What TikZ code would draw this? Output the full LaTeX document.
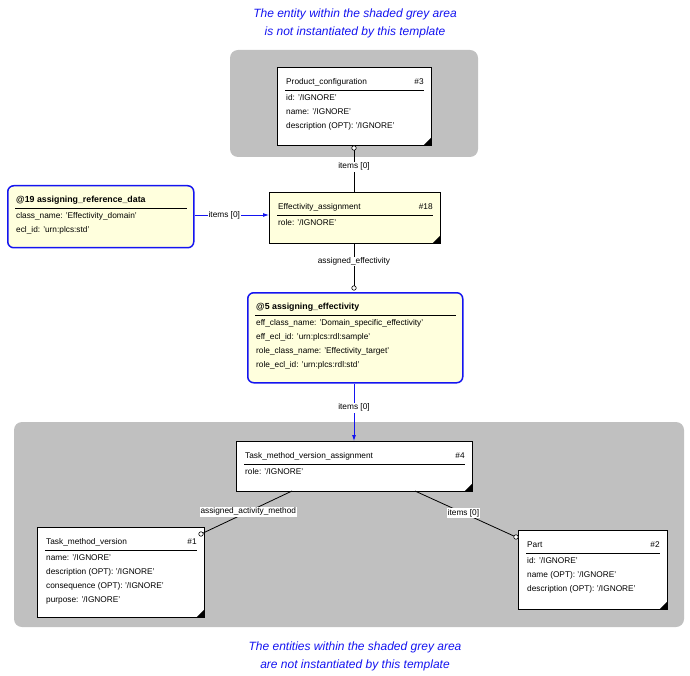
\documentclass[tikz,border=0pt]{standalone}
\usepackage{fontspec}
\setmainfont{Liberation Sans}
\usetikzlibrary{arrows.meta}
\definecolor{ly}{RGB}{255,255,221}
\definecolor{gr}{RGB}{192,192,192}
\definecolor{bl}{RGB}{20,20,240}
\tikzset{
 ent/.style={draw=black,line width=0.9pt,anchor=north west,inner sep=0},
 tpl/.style={draw=bl,line width=1.5pt,rounded corners=6pt,anchor=north west,inner sep=0,fill=ly},
 txt/.style={anchor=west,inner sep=0,font=\fontsize{8.3}{14}\selectfont},
 attr/.style={anchor=north west,inner sep=0,align=left,font=\fontsize{8.3}{14}\selectfont},
 lbl/.style={fill=white,inner sep=1pt,font=\fontsize{8.3}{9}\selectfont},
 note/.style={text=bl,font=\fontsize{12}{18}\selectfont\itshape,align=center},
 conn/.style={line width=0.8pt},
 ring/.style={circle,draw=black,fill=white,inner sep=0,minimum size=4.5pt,line width=0.6pt},
}
\newcommand{\myent}[9]{% name x y w h title num attrs fill
 \node[ent,fill=#9,minimum width=#4pt,minimum height=#5pt] (#1) at (#2,#3) {};
 \node[txt] (#1-t) at ([xshift=9pt,yshift=-15pt]#1.north west) {#6};
 \node[txt,anchor=east] (#1-n) at ([xshift=-8pt,yshift=-15pt]#1.north east) {#7};
 \draw[line width=0.5pt] ([xshift=8pt,yshift=-23pt]#1.north west) -- ([xshift=-8pt,yshift=-23pt]#1.north east);
 \node[attr] (#1-a) at ([xshift=9pt,yshift=-27pt]#1.north west) {#8};
 \fill (#1.south east) -- ++(-9,0) -- ++(9,-9) -- cycle;
}
\newcommand{\mytpl}[7]{% name x y w h title attrs
 \node[tpl,minimum width=#4pt,minimum height=#5pt] (#1) at (#2,#3) {};
 \node[txt,font=\fontsize{8.8}{14}\selectfont\bfseries] (#1-t) at ([xshift=9pt,yshift=-15pt]#1.north west) {#6};
 \draw[line width=0.6pt] ([xshift=8pt,yshift=-23pt]#1.north west) -- ([xshift=-8pt,yshift=-23pt]#1.north east);
 \node[attr] (#1-a) at ([xshift=9pt,yshift=-27pt]#1.north west) {#7};
}
\begin{document}
\begin{tikzpicture}[x=1pt,y=-1pt]
\useasboundingbox (0,0) rectangle (690,676);
\fill[gr,rounded corners=8pt] (230,50) rectangle (478,157);
\fill[gr,rounded corners=8pt] (14,422) rectangle (684,627);
\node[note] (n1) at (355,23) {The entity within the shaded grey area\\is not instantiated by this template};
\node[note] (n2) at (355,656) {The entities within the shaded grey area\\are not instantiated by this template};

\myent{pc}{277}{67}{154}{78}{Product\_configuration}{\#3}{id: '/IGNORE'\\name: '/IGNORE'\\description (OPT): '/IGNORE'}{white}
\myent{ea}{269}{192}{171}{51}{Effectivity\_assignment}{\#18}{role: '/IGNORE'}{ly}
\mytpl{r19}{7}{185}{186}{62}{@19 assigning\_reference\_data}{class\_name: 'Effectivity\_domain'\\ecl\_id: 'urn:plcs:std'}
\mytpl{r5}{247}{292}{215}{90}{@5 assigning\_effectivity}{eff\_class\_name: 'Domain\_specific\_effectivity'\\eff\_ecl\_id: 'urn:plcs:rdl:sample'\\role\_class\_name: 'Effectivity\_target'\\role\_ecl\_id: 'urn:plcs:rdl:std'}
\myent{tmva}{236}{441}{236}{50}{Task\_method\_version\_assignment}{\#4}{role: '/IGNORE'}{white}
\myent{tmv}{37}{527}{167}{90}{Task\_method\_version}{\#1}{name: '/IGNORE'\\description (OPT): '/IGNORE'\\consequence (OPT): '/IGNORE'\\purpose: '/IGNORE'}{white}
\myent{part}{518}{530}{149}{79}{Part}{\#2}{id: '/IGNORE'\\name (OPT): '/IGNORE'\\description (OPT): '/IGNORE'}{white}

\coordinate (c1) at (354,148);
\draw[conn] (ea.north -| c1) -- node[lbl,pos=0.55]{items [0]} (pc.south -| c1);
\node[ring] at (c1) {};
\draw[conn,bl,-{Latex[length=6pt,width=4pt]}] (r19.east |- 0,215) -- node[lbl,text=black,pos=0.4]{items [0]} (ea.west |- 0,215);
\coordinate (c2) at (354,288);
\draw[conn] (ea.south -| c2) -- node[lbl,pos=0.4]{assigned\_effectivity} (c2);
\node[ring] at (c2) {};
\draw[conn,bl,-{Latex[length=6pt,width=4pt]}] (r5.south -| c2) -- node[lbl,text=black,pos=0.42]{items [0]} (tmva.north -| c2);
\coordinate (c3) at (201,534);
\coordinate (c4) at (516,537);
\draw[conn] (292,491) -- node[lbl,pos=0.48]{assigned\_activity\_method} (c3);
\node[ring] at (c3) {};
\draw[conn] (415,491) -- node[lbl,pos=0.48]{items [0]} (c4);
\node[ring] at (c4) {};
\end{tikzpicture}
\end{document}
